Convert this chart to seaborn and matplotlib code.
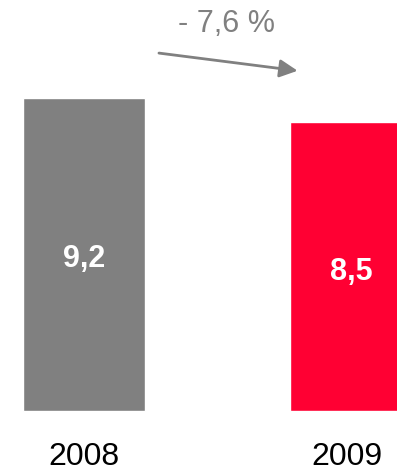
import matplotlib
matplotlib.use("Agg")
import matplotlib.pyplot as plt
import seaborn as sns
import pandas as pd

years = ["2008", "2009"]
values = [9.2, 8.5]
labels = ["9,2", "8,5"]
colors = ["#808080", "#FF0033"]
change_label = "- 7,6 %"

sns.set_theme(style="white")
plt.rcParams['font.family'] = ['Liberation Sans', 'DejaVu Sans']

df = pd.DataFrame({"year": years, "value": values})

fig = plt.figure(figsize=(3.97, 4.71), dpi=100)
ax = fig.add_axes([0, 0, 1, 1])
sns.barplot(data=df, x="year", y="value", hue="year", palette=colors,
            width=0.457, legend=False, saturation=1, ax=ax)

ax.set_xlim(-0.315, 1.172)
ax.set_ylim(-1.764, 12.08)
ax.axis("off")

# valeurs dans les barres + années
label_y = [4.23, 3.85]
for i, (v, lab) in enumerate(zip(values, labels)):
    ax.text(i, label_y[i], lab, ha="center", va="baseline",
            color="white", fontsize=22, fontweight="bold")
    ax.text(i - 0.015 * i, -1.6, years[i], ha="center", va="baseline",
            color="black", fontsize=23)

# flèche de variation
ax.annotate("", xy=(0.81, 9.99), xytext=(0.27, 10.53),
            arrowprops=dict(arrowstyle="-|>,head_length=0.9,head_width=0.45",
                            color="#808080", lw=2))
ax.text(0.535, 11.14, change_label, ha="center", va="baseline",
        color="#808080", fontsize=22)

fig.savefig("out.png", dpi=100)
